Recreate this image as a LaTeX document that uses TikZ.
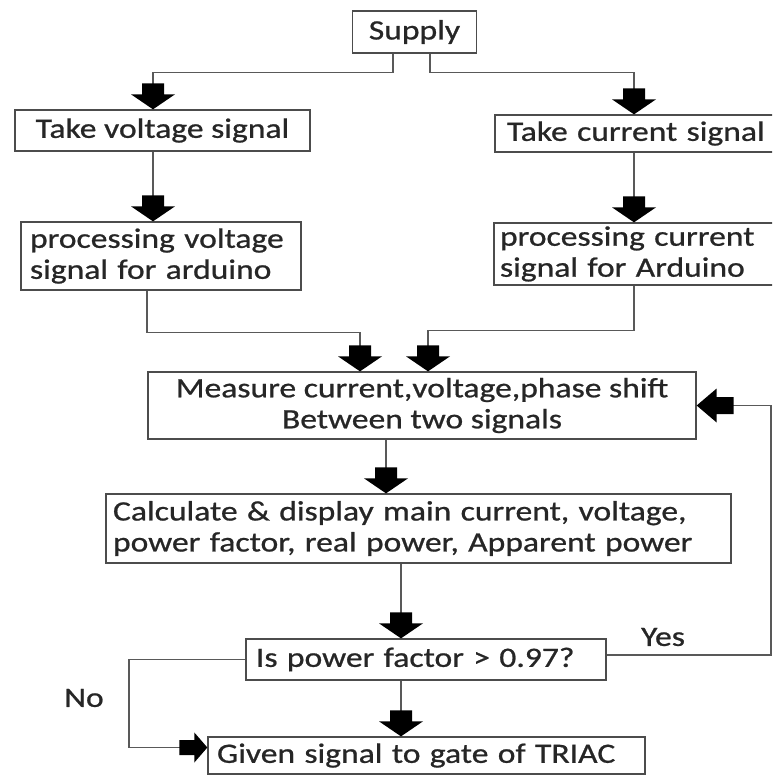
\documentclass[tikz,border=0pt]{standalone}
\usepackage{fontspec}
\setmainfont{Carlito}[FakeStretch=1.2,FakeBold=0.8]
\usetikzlibrary{arrows.meta}
\newcommand\arrdown[1]{\fill[black, shift={(#1)}] (0,0) -- (-22,-15) -- (-11,-15) -- (-11,-26) -- (11,-26) -- (11,-15) -- (22,-15) -- cycle;}
\begin{document}
\begin{tikzpicture}[x=1pt,y=-1pt,
  box/.style={draw=black!70, line width=1.3pt, inner ysep=0pt, font=\fontsize{28}{31}\selectfont, text=black!85},
  lbox/.style={box, align=left},
  conn/.style={draw=black!65, line width=1.6pt},
  lab/.style={font=\fontsize{28}{31}\selectfont, text=black!85}
]
\useasboundingbox (0,0) rectangle (772,776);
\clip (0,0) rectangle (772,776);

% boxes
\node[box, minimum width=124pt, minimum height=42pt] (supply) at (414.5,32) {Supply};
\node[box, minimum width=295pt, minimum height=41pt] (tv) at (162.5,130.5) {Take voltage signal};
\node[lbox, inner xsep=12pt, text width=263pt, minimum height=37pt] (tc) at (638.5,133.5) {Take current signal};
\node[lbox, inner xsep=9pt, text width=262pt, minimum height=68pt] (pv) at (161,256) {processing voltage\\signal for arduino};
\node[lbox, inner xsep=6pt, text width=276pt, minimum height=62pt] (pc) at (638,254) {processing current\\signal for Arduino};
\node[box, align=center, minimum width=548pt, minimum height=67pt] (meas) at (422,405.5) {Measure current,voltage,phase shift\\Between two signals};
\node[lbox, inner xsep=7pt, text width=611pt, minimum height=69pt] (calc) at (418.5,528.5) {Calculate \& display main current, voltage,\\power factor, real power, Apparent power};
\node[lbox, inner xsep=10pt, text width=340pt, minimum height=41pt] (dec) at (426,659.5) {Is power factor > 0.97?};
\node[lbox, inner xsep=9pt, text width=419pt, minimum height=37pt] (gate) at (426.5,755.5) {Given signal to gate of TRIAC};

% labels
\node[lab] (yes) at (663,637) {Yes};
\node[lab] (no) at (84,698) {No};

% coordinates
\coordinate (tvn) at ([xshift=-9.5pt]tv.north);
\coordinate (tcn) at ([xshift=-4.5pt]tc.north);
\coordinate (tvs) at ([xshift=-9.5pt]tv.south);
\coordinate (pvn) at (tvs |- pv.north);
\coordinate (tcs) at ([xshift=-4.5pt]tc.south);
\coordinate (pcn) at (tcs |- pc.north);
\coordinate (m1) at ([xshift=-62pt]meas.north);
\coordinate (m2) at ([xshift=6pt]meas.north);
\coordinate (ms) at ([xshift=-36pt]meas.south);
\coordinate (cn) at (ms |- calc.north);
\coordinate (cs) at ([xshift=-17.5pt]calc.south);
\coordinate (dn) at (cs |- dec.north);
\coordinate (ds) at ([xshift=-25pt]dec.south);
\coordinate (gn) at (ds |- gate.north);
\coordinate (fbx) at (771,0);
\coordinate (nx) at (129,0);
\coordinate (gw) at ([yshift=8pt]gate.west);

% connectors
\draw[conn] ([xshift=-21.5pt]supply.south) |- ([yshift=37pt]tvn) -- (tvn);
\draw[conn] ([xshift=15.5pt]supply.south) |- ([yshift=42pt]tcn) -- (tcn);
\draw[conn] (tvs) -- (pvn);
\draw[conn] (tcs) -- (pcn);
\draw[conn] ([xshift=-14pt]pv.south) |- ([yshift=39pt]m1) -- (m1);
\draw[conn] ([xshift=-4pt]pc.south) |- ([yshift=41pt]m2) -- (m2);
\draw[conn] (ms) -- (cn);
\draw[conn] (cs) -- (dn);
\draw[conn] (ds) -- (gn);
\draw[conn] ([yshift=4.5pt]dec.east) -| (fbx |- meas.east) -- (meas.east);
\draw[conn] (dec.west) -| (nx |- gw) -- (gw);

% fat arrowheads
\arrdown{tvn}
\arrdown{tcn}
\arrdown{pvn}
\arrdown{pcn}
\arrdown{m1}
\arrdown{m2}
\arrdown{cn}
\arrdown{dn}
\arrdown{gn}
\fill[black, shift={(meas.east)}] (0,0) -- (20,-17) -- (20,-8.5) -- (37,-8.5) -- (37,8.5) -- (20,8.5) -- (20,17) -- cycle;
\fill[black, shift={(gw)}] (0,0) -- (-13,-15) -- (-13,-7.5) -- (-28,-7.5) -- (-28,7.5) -- (-13,7.5) -- (-13,15) -- cycle;
\end{tikzpicture}
\end{document}
